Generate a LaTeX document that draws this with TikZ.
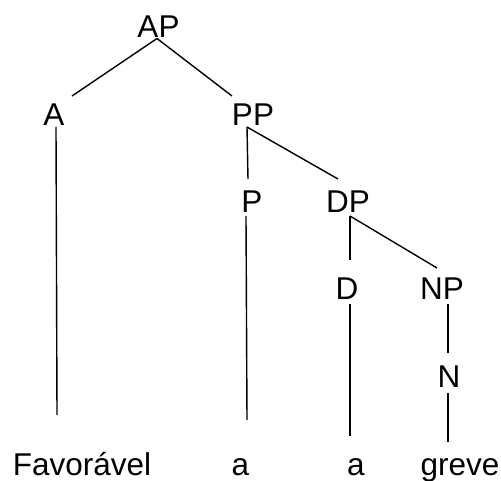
\documentclass[tikz,border=0pt]{standalone}
\usepackage{fontspec}
\setmainfont{Liberation Sans}
\usepackage{tikz}
\tikzset{
  cat/.style={inner sep=0pt,outer sep=0pt,text height=23pt,text depth=0pt,font=\fontsize{31.5}{37}\selectfont},
  branch/.style={line width=1.4pt}
}

\begin{document}
\begin{tikzpicture}[x=1pt,y=1pt]
  \useasboundingbox (0,0) rectangle (501,480);

  %categories
  \node[cat] (AP) at (158.5,454) {AP};
  \node[cat] (A) at (54,365.5) {A};
  \node[cat] (PP) at (253,365.5) {PP};
  \node[cat] (P) at (252,278.5) {P};
  \node[cat] (DP) at (348,278.5) {DP};
  \node[cat] (D) at (347,191.5) {D};
  \node[cat] (NP) at (442,191.5) {NP};
  \node[cat] (N) at (449,104) {N};

  %words
  \node[cat] (fav) at (82,16.5) {Favorável};
  \node[cat] (prep) at (240.5,16.5) {a};
  \node[cat] (det) at (356,16.5) {a};
  \node[cat] (greve) at (460,16.5) {greve};

  %branches
  \draw[branch] ([xshift=-1.5pt,yshift=-1pt]AP.south) -- ([xshift=18pt,yshift=7pt]A.north);
  \draw[branch] ([xshift=-1.5pt,yshift=-1pt]AP.south) -- ([xshift=-21pt,yshift=7pt]PP.north);
  \draw[branch] ([xshift=2pt,yshift=-1pt]A.south) -- ([xshift=-25pt,yshift=37pt]fav.north);
  \draw[branch] ([xshift=-6pt,yshift=-1pt]PP.south) -- ([xshift=-4pt,yshift=11pt]P.north);
  \draw[branch] ([xshift=-6pt,yshift=-1pt]PP.south) -- ([xshift=-10pt,yshift=11pt]DP.north);
  \draw[branch] ([xshift=-6pt,yshift=-3pt]P.south) -- ([xshift=6.5pt,yshift=32pt]prep.north);
  \draw[branch] ([xshift=2pt,yshift=-3pt]DP.south) -- ([xshift=3pt,yshift=17pt]D.north);
  \draw[branch] ([xshift=2pt,yshift=-3pt]DP.south) -- ([xshift=-5pt,yshift=9pt]NP.north);
  \draw[branch] ([xshift=3pt,yshift=-4pt]D.south) -- ([xshift=-6pt,yshift=16pt]det.north);
  \draw[branch] ([xshift=6pt,yshift=-4pt]NP.south) -- ([xshift=-1pt,yshift=12pt]N.north);
  \draw[branch] ([xshift=-1pt,yshift=-5pt]N.south) -- ([xshift=-12pt,yshift=10pt]greve.north);
\end{tikzpicture}
\end{document}
